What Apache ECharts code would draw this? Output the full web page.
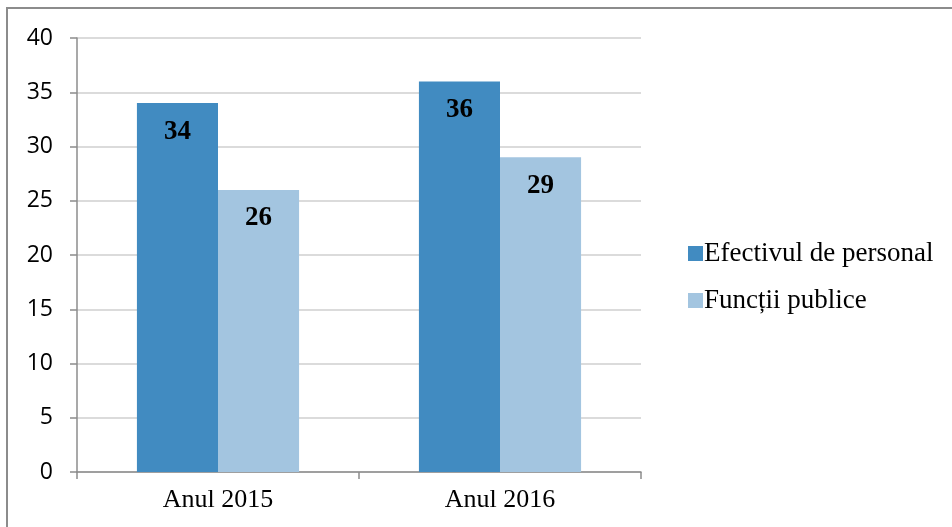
<!DOCTYPE html>
<html><head><meta charset="utf-8">
<script src="https://cdn.jsdelivr.net/npm/echarts@6/dist/echarts.min.js"></script>
<style>html,body{margin:0;padding:0;background:#fff}#c{width:952px;height:527px}</style>
</head><body><div id="c"></div>
<script>
const categories = ['Anul 2015', 'Anul 2016'];
const seriesNames = ['Efectivul de personal', 'Funcții publice'];
const efectiv = [34, 36];
const functii = [26, 29];
const yTicks = [0, 5, 10, 15, 20, 25, 30, 35, 40];

const chart = echarts.init(document.getElementById('c'));
const labelStyle = {show: true, position: 'insideTop', distance: 15, fontFamily: 'Liberation Serif', fontWeight: 'bold', fontSize: 27, color: '#000'};
chart.setOption({
  animation: false,
  graphic: [{type: 'rect', shape: {x: 7, y: 8, width: 960, height: 540}, style: {fill: 'none', stroke: '#8c8c8c', lineWidth: 2}}],
  grid: {left: 77, right: 311, top: 38, bottom: 55},
  legend: {
    orient: 'vertical', left: 683, top: 235, itemWidth: 15, itemHeight: 15, itemGap: 20,
    icon: 'rect',
    textStyle: {fontFamily: 'Liberation Serif', fontSize: 27, color: '#000', padding: [0, 0, 0, -4]},
    data: seriesNames
  },
  xAxis: {
    type: 'category', data: categories,
    axisLine: {lineStyle: {color: '#8c8c8c', width: 1.5}},
    axisTick: {show: true, length: 7, lineStyle: {color: '#8c8c8c', width: 1.5}},
    axisLabel: {fontFamily: 'Liberation Serif', fontSize: 26, color: '#000', margin: 15}
  },
  yAxis: {
    type: 'value', min: yTicks[0], max: yTicks[yTicks.length - 1], interval: 5,
    axisLine: {show: true, lineStyle: {color: '#8c8c8c', width: 1.5}},
    axisTick: {show: true, length: 7, lineStyle: {color: '#8c8c8c', width: 1.5}},
    splitLine: {lineStyle: {color: '#cfcfcf', width: 1.5}},
    axisLabel: {fontFamily: 'Open Sans', fontSize: 23, color: '#000', margin: 24}
  },
  series: [
    {name: seriesNames[0], type: 'bar', data: efectiv, barGap: '0%', barCategoryGap: '42.5%',
     itemStyle: {color: '#418BC1'}, label: labelStyle},
    {name: seriesNames[1], type: 'bar', data: functii,
     itemStyle: {color: '#A3C5E0'}, label: labelStyle}
  ]
});
</script></body></html>
